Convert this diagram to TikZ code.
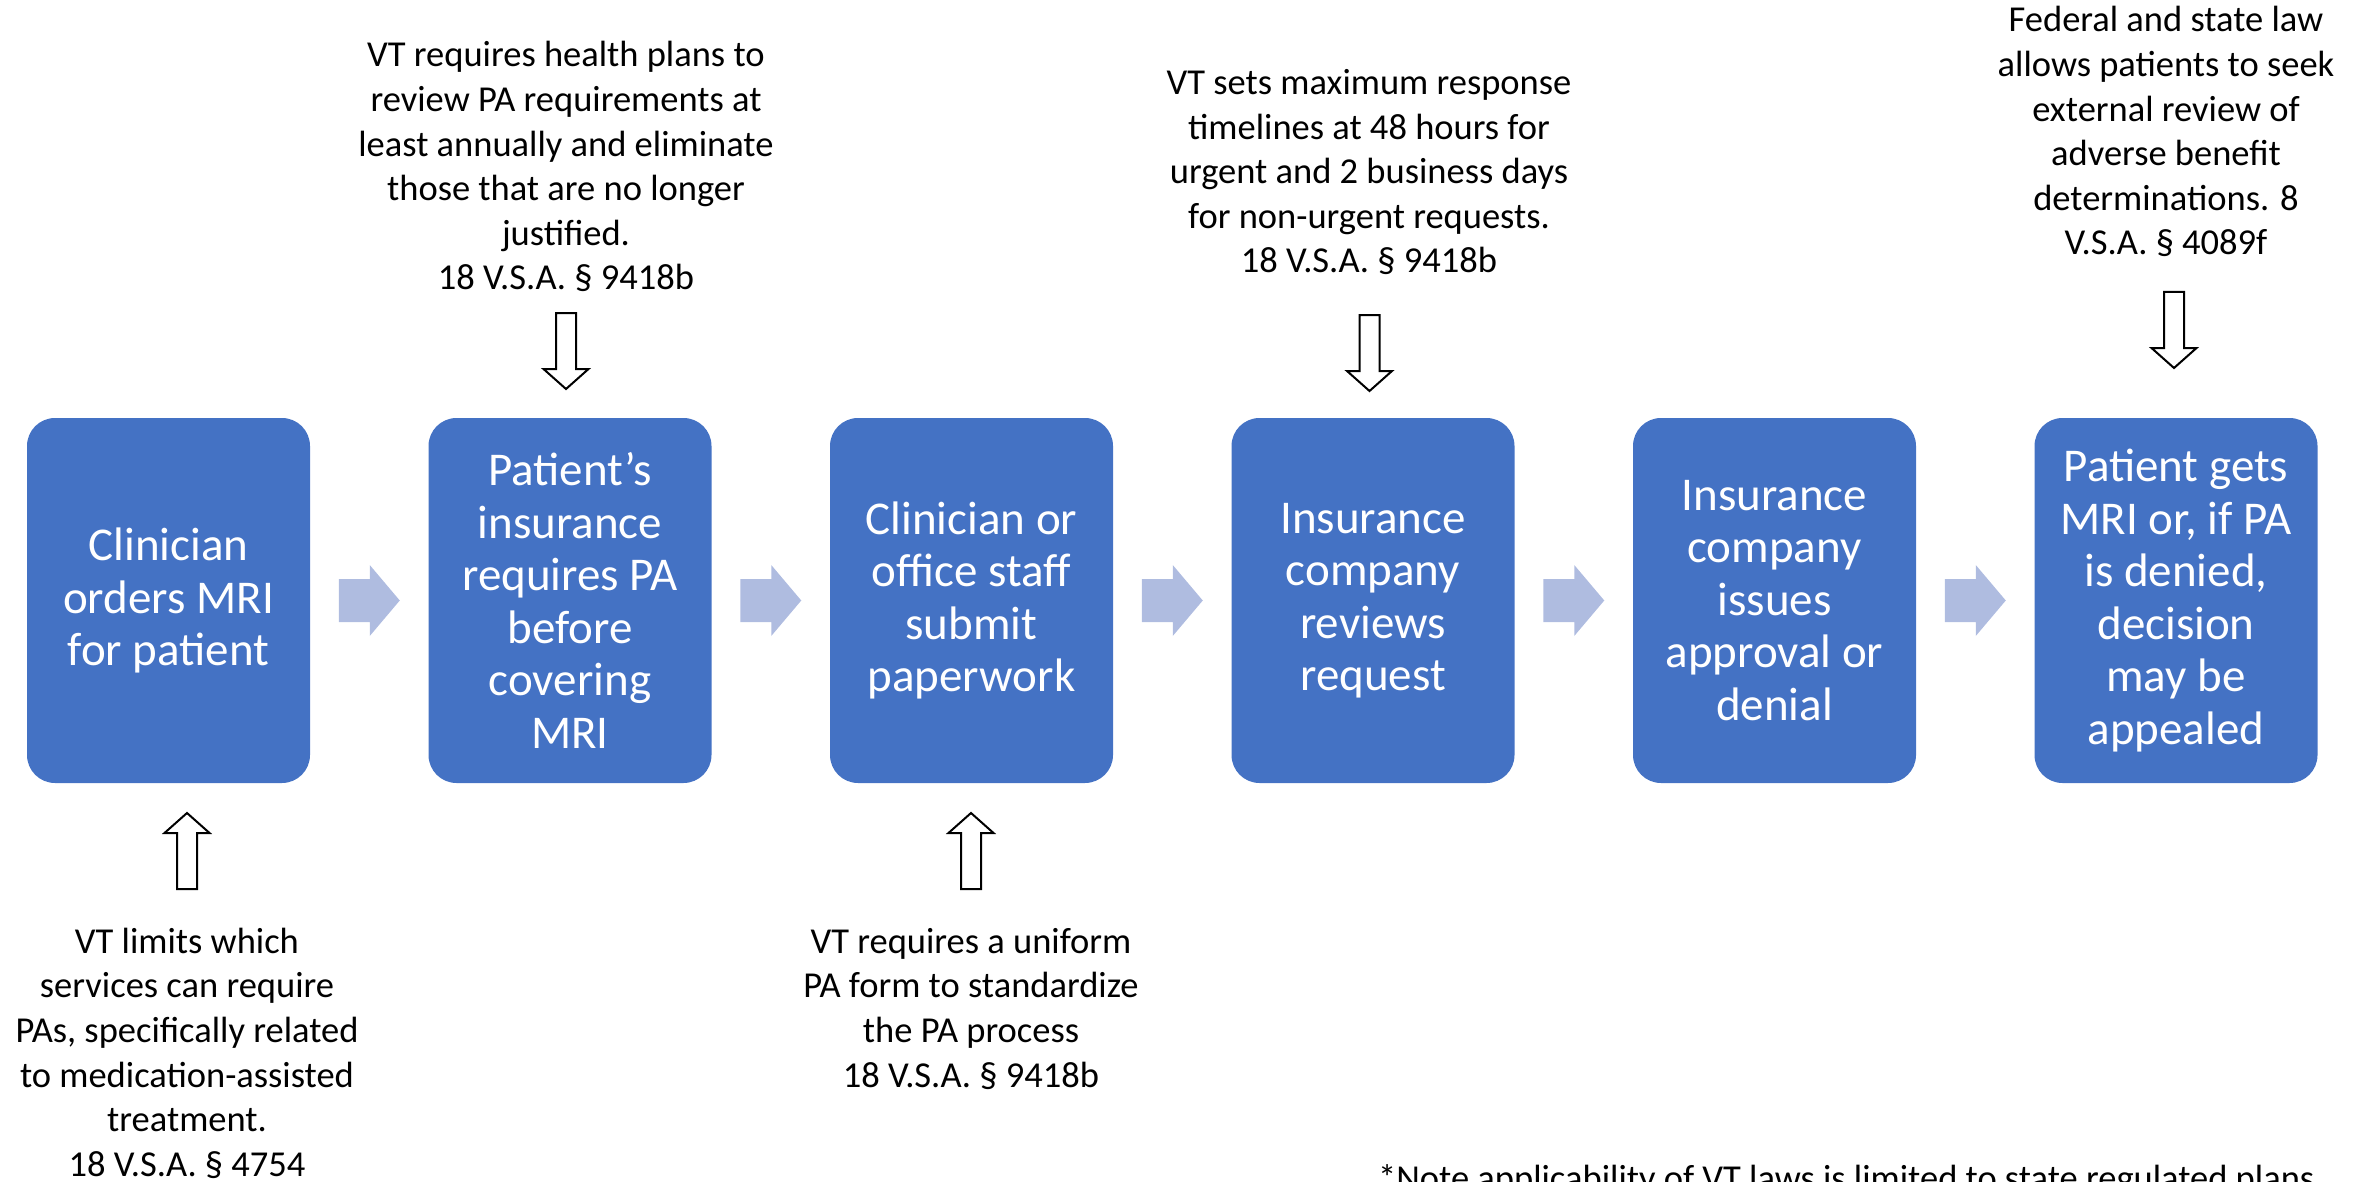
\documentclass[tikz,border=0pt]{standalone}
\usepackage{fontspec}
\setmainfont{Carlito}
\usetikzlibrary{calc}
\definecolor{boxblue}{HTML}{4472C4}
\definecolor{chev}{RGB}{175,188,224}
\begin{document}
\begin{tikzpicture}[x=1pt,y=-1pt,
 stepbox/.style={draw=none, fill=boxblue, rounded corners=28pt, minimum width=283pt, minimum height=365pt, text=white, align=center, inner sep=0pt, font=\fontsize{47}{52.5}\selectfont},
 lawtext/.style={align=center, inner sep=0pt, font=\fontsize{36.5}{44.6}\selectfont},
 chevronpic/.pic={\fill[chev] (-30.5,-21.5) -- (0.5,-21.5) -- (0.5,-35.5) -- (30.5,0) -- (0.5,35.5) -- (0.5,21.5) -- (-30.5,21.5) -- cycle;},
 downarrow/.pic={\draw[line width=2pt, fill=white, line join=miter] (-10,0) -- (10,0) -- (10,56) -- (22.5,56) -- (0,76) -- (-22.5,56) -- (-10,56) -- cycle;},
 uparrow/.pic={\draw[line width=2pt, fill=white, line join=miter] (-10,0) -- (10,0) -- (10,-56) -- (22.5,-56) -- (0,-76) -- (-22.5,-56) -- (-10,-56) -- cycle;}]
\useasboundingbox (0,0) rectangle (2366,1182);
\clip (0,0) rectangle (2366,1182);

\node[stepbox] (b1) at (168.5,600.5) {Clinician\\orders MRI\\for patient};
\node[stepbox] (b2) at (570,600.5) {Patient’s\\insurance\\requires PA\\before\\covering\\MRI};
\node[stepbox] (b3) at (971.5,600.5) {Clinician or\\office staff\\submit\\paperwork};
\node[stepbox] (b4) at (1373,600.5) {Insurance\\company\\reviews\\request};
\node[stepbox] (b5) at (1774.5,600.5) {Insurance\\company\\issues\\approval or\\denial};
\node[stepbox] (b6) at (2176,600.5) {Patient gets\\MRI or, if PA\\is denied,\\decision\\may be\\appealed};

\coordinate (m12) at ($(b1.east)!0.5!(b2.west)$);
\coordinate (m23) at ($(b2.east)!0.5!(b3.west)$);
\coordinate (m34) at ($(b3.east)!0.5!(b4.west)$);
\coordinate (m45) at ($(b4.east)!0.5!(b5.west)$);
\coordinate (m56) at ($(b5.east)!0.5!(b6.west)$);
\foreach \m in {m12,m23,m34,m45,m56} \pic at (\m) {chevronpic};

\coordinate (d2) at (566,313);
\coordinate (d4) at (1369.5,315);
\coordinate (d6) at (2174,292);
\coordinate (u1) at (187,889);
\coordinate (u3) at (971,889);
\pic at (d2) {downarrow};
\pic at (d4) {downarrow};
\pic at (d6) {downarrow};
\pic at (u1) {uparrow};
\pic at (u3) {uparrow};

\node[lawtext, anchor=south] (t2) at (566,303.4) {VT requires health plans to\\review PA requirements at\\least annually and eliminate\\those that are no longer\\justified.\\\strut 18 V.S.A. § 9418b};
\node[lawtext, anchor=south] (t4) at (1369,286.4) {VT sets maximum response\\timelines at 48 hours for\\urgent and 2 business days\\for non-urgent requests.\\\strut 18 V.S.A. § 9418b};
\node[lawtext, anchor=south] (t6) at (2166,268.4) {Federal and state law\\allows patients to seek\\external review of\\adverse benefit\\determinations. 8\\\strut V.S.A. § 4089f};
\node[lawtext, anchor=north] (s1) at (187,921.8) {\strut VT limits which\\services can require\\PAs, specifically related\\to medication-assisted\\treatment.\\18 V.S.A. § 4754};
\node[lawtext, anchor=north] (s3) at (971,921.8) {\strut VT requires a uniform\\PA form to standardize\\the PA process\\18 V.S.A. § 9418b};

\node[anchor=base west, inner sep=0pt, font=\fontsize{36.5}{44.6}\selectfont] (note) at (1378,1190) {*Note applicability of VT laws is limited to state regulated plans};
\end{tikzpicture}
\end{document}
